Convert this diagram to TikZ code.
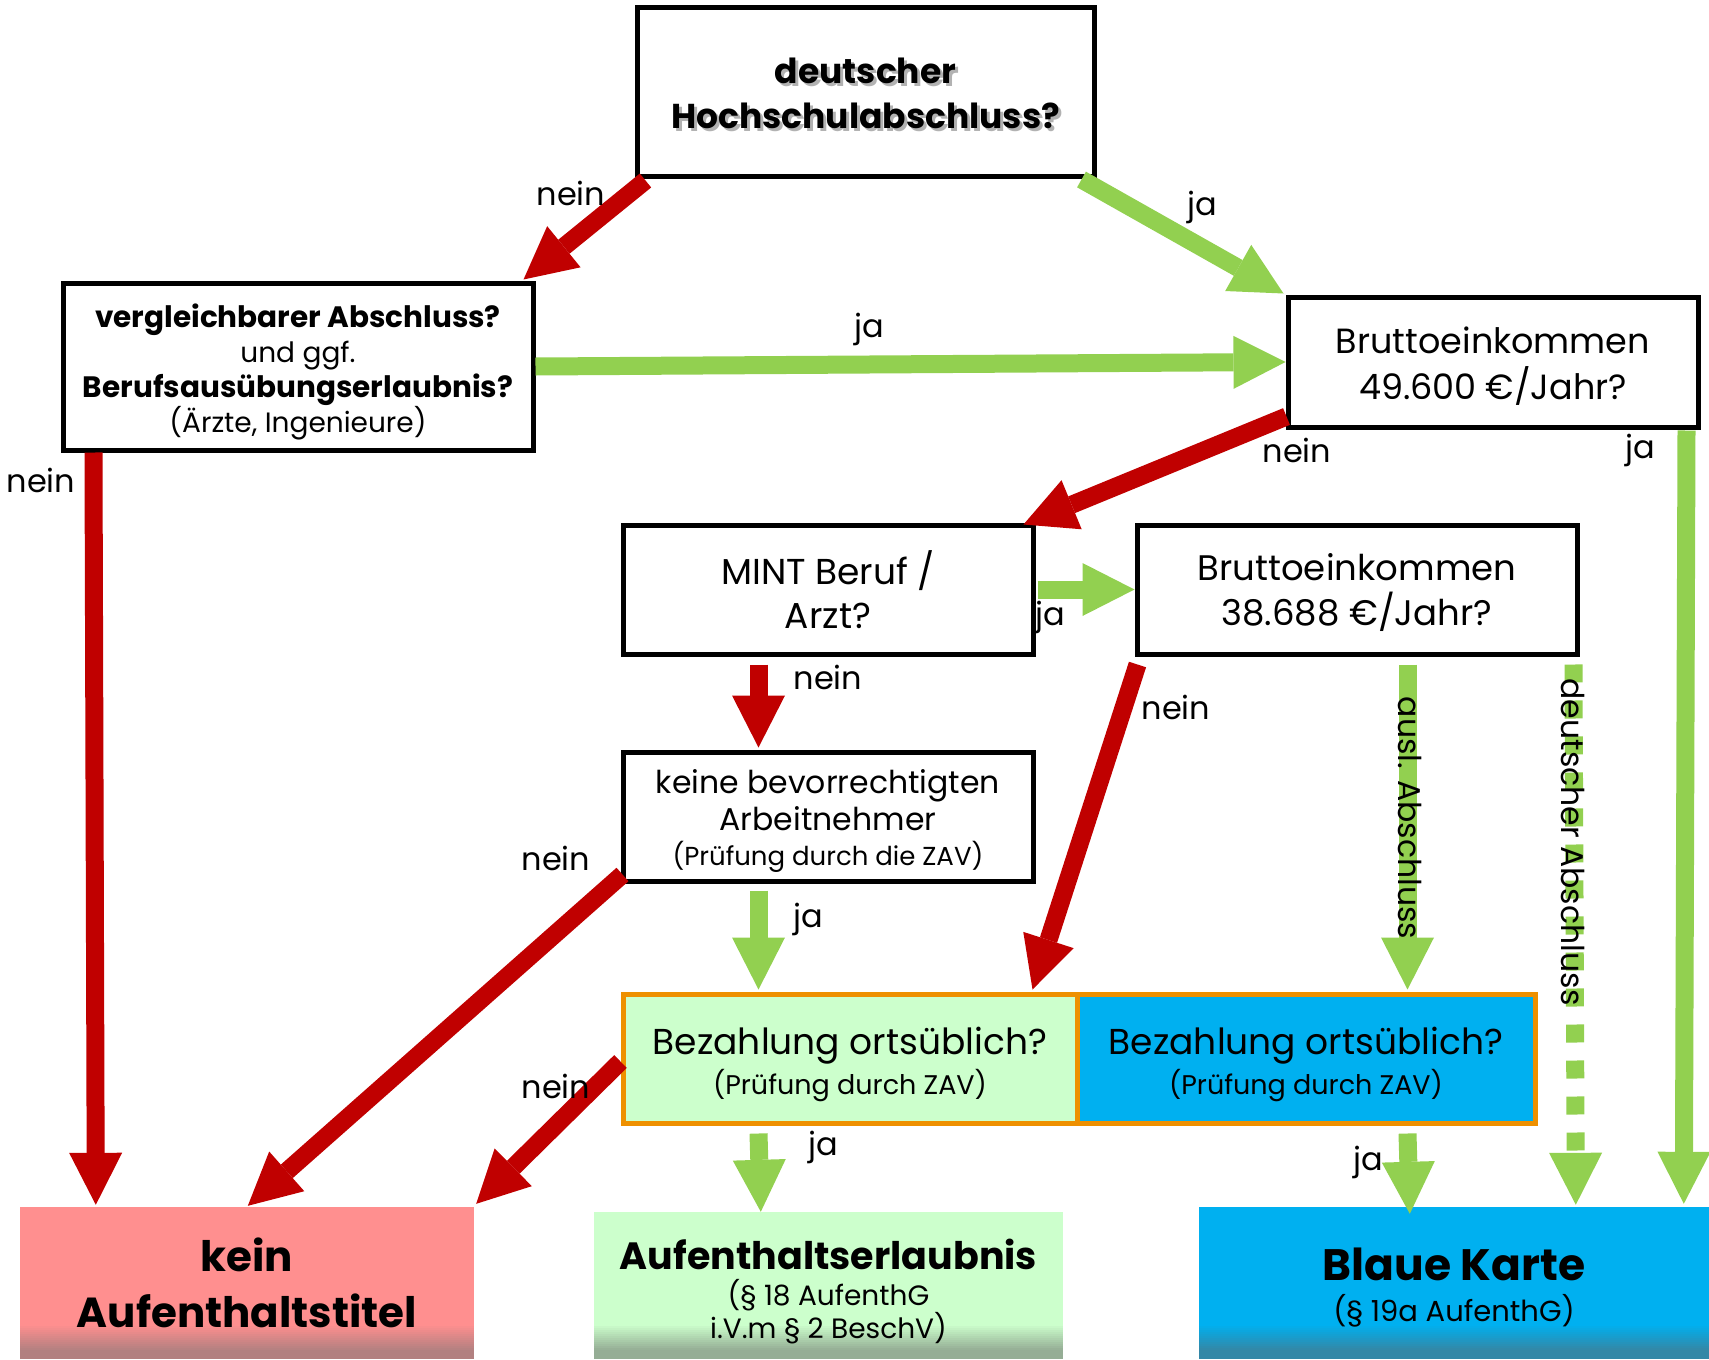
\documentclass[tikz,border=0pt]{standalone}
\usepackage{fontspec}
\setmainfont{Poppins}
\usetikzlibrary{arrows.meta,calc}
\definecolor{cred}{HTML}{C00000}
\definecolor{cgreen}{HTML}{92D050}
\definecolor{cblue}{HTML}{00B0F0}
\definecolor{corange}{HTML}{EE9000}
\definecolor{lgreen}{HTML}{CCFFCC}
\definecolor{lred}{HTML}{FF8F8F}
\colorlet{dred}{lred!60!black!75}
\colorlet{dgreen}{lgreen!60!black!80}
\colorlet{dblue}{cblue!60!black!80}
\tikzset{
  qbox/.style={draw=black, line width=5pt, fill=white, inner sep=0pt},
  paybox/.style={draw=corange, line width=5pt, inner sep=0pt},
  endbox/.style={align=center, inner sep=0pt, fill=#1},
  txt/.style={align=center, inner sep=0pt},
  % darkening strip along the lower edge of an outcome box, built from thin rows
  band/.style 2 args={path picture={
      \colorlet{bandtop}{#1}\colorlet{bandbot}{#2}
      \foreach \i in {0,...,15}{
        \pgfmathtruncatemacro\p{min(100,(\i+1)*8)}
        \pgfmathsetmacro\ya{32-2*\i}
        \pgfmathsetmacro\yb{29-2*\i}
        \fill[bandbot!\p!bandtop] ([yshift=\ya pt]path picture bounding box.south west)
          rectangle ([yshift=\yb pt]path picture bounding box.south east);}
      \fill[bandbot] ([yshift=2pt]path picture bounding box.south west)
          rectangle (path picture bounding box.south east);}},
  rarrow/.style={draw=cred, line width=18pt,
      -{Triangle[width=53pt,length=52pt,line width=0pt]}},
  garrow/.style={draw=cgreen, line width=18pt,
      -{Triangle[width=53pt,length=52pt,line width=0pt]}},
  gdash/.style={garrow, dash pattern=on 18pt off 18pt},
  lbl/.style={inner sep=0pt, font=\fontsize{32}{36}\selectfont},
  title/.style={txt, font=\fontsize{34.5}{45}\selectfont\bfseries},
}
\begin{document}
\begin{tikzpicture}[x=1pt,y=-1pt]
\useasboundingbox (0,0) rectangle (1709,1360);

% question boxes
\node[qbox, minimum width=457, minimum height=169] (top) at (865.5,91.5) {};
% soft drop shadow behind the title
\node[title, text=black, opacity=0.3] (topshadow) at (868.5,96) {deutscher\\Hochschulabschluss?};
\node[title] (toptext) at (865.5,93) {deutscher\\Hochschulabschluss?};

\node[qbox, minimum width=470, minimum height=167] (vgl) at (298,366.5) {};
\node[txt, font=\fontsize{28}{35}\selectfont] (vgltext) at (298,372)
  {{\fontsize{29.5}{35}\selectfont\bfseries vergleichbarer Abschluss?}\\und ggf.\\
   {\fontsize{29.5}{35}\selectfont\bfseries Berufsausübungserlaubnis?}\\(Ärzte, Ingenieure)};

\node[qbox, minimum width=410, minimum height=130] (b49) at (1493,362) {};
\node[txt, font=\fontsize{35}{46}\selectfont] (b49text) at (1493,366.5)
  {Bruttoeinkommen\\49.600 €/Jahr?};

\node[qbox, minimum width=410, minimum height=129] (mint) at (828,589.5) {};
\node[txt, font=\fontsize{36}{44}\selectfont] (minttext) at (828,589.5)
  {MINT Beruf /\\Arzt?};

\node[qbox, minimum width=440, minimum height=129] (b38) at (1357,589.5) {};
\node[txt, font=\fontsize{35.5}{45}\selectfont] (b38text) at (1357,593)
  {Bruttoeinkommen\\38.688 €/Jahr?};

\node[qbox, minimum width=410, minimum height=129] (keine) at (828,816.5) {};
\node[txt, font=\fontsize{31.5}{37}\selectfont] (keinetext) at (828,821)
  {keine bevorrechtigten\\Arbeitnehmer\\[-2pt]{\fontsize{26}{30}\selectfont(Prüfung durch die ZAV)}};

% salary check boxes
\node[paybox, fill=lgreen, minimum width=454, minimum height=129] (bezg) at (850,1058.5) {};
\node[paybox, fill=cblue, minimum width=458, minimum height=129] (bezb) at (1306,1058.5) {};
\node[txt, font=\fontsize{36}{42}\selectfont] (bezgtext) at (850,1064)
  {Bezahlung ortsüblich?\\[-2pt]{\fontsize{27}{30}\selectfont(Prüfung durch ZAV)}};
\node[txt, font=\fontsize{36}{42}\selectfont] (bezbtext) at (1306,1064)
  {Bezahlung ortsüblich?\\[-2pt]{\fontsize{27}{30}\selectfont(Prüfung durch ZAV)}};

% outcomes
\node[endbox=lred, band={lred}{dred}, minimum width=454, minimum height=151,
      font=\fontsize{42}{56}\selectfont\bfseries] (kein) at (247,1282.5)
  {kein\\Aufenthaltstitel};
\node[endbox=lgreen, band={lgreen}{dgreen}, minimum width=469, minimum height=146]
  (aufe) at (828.5,1285) {};
\node[txt, font=\fontsize{28}{33}\selectfont] (aufetext) at (828.5,1292)
  {{\fontsize{38}{44}\selectfont\bfseries Aufenthaltserlaubnis}\\[3pt](§ 18 AufenthG\\i.V.m § 2 BeschV)};
\node[endbox=cblue, band={cblue}{dblue}, minimum width=510, minimum height=151]
  (blau) at (1454,1282.5) {};
\node[txt, font=\fontsize{29}{33}\selectfont] (blautext) at (1454,1288)
  {{\fontsize{44}{48}\selectfont\bfseries Blaue Karte}\\[8pt](§ 19a AufenthG)};

% connectors
\draw[rarrow] ($(top.south west)+(11,2)$) -- ($(vgl.north east)+(-12,-1)$);
\draw[garrow] ($(top.south east)+(-15,1)$) -- ($(b49.north west)+(-2,-1)$);
\draw[garrow] (vgl.east) -- (b49.west);
\draw[rarrow] ($(vgl.south west)+(33,0)$) -- ($(kein.north west)+(76,-2)$);
\draw[rarrow] ($(b49.south west)+(1,-13)$) -- ($(mint.north east)+(-12,2)$);
\draw[garrow] ($(b49.south east)+(-14,1)$) -- ($(blau.north west)+(485,-3)$);
\draw[garrow, shorten <=2pt] (mint.east) -- (b38.west);
\draw[rarrow] ($(mint.south west)+(138,8)$) -- ($(keine.north west)+(138,-2)$);
\draw[rarrow] ($(b38.south west)+(3,8)$) -- ($(bezg.north west)+(412,-2)$);
\draw[garrow] ($(b38.south west)+(273,8)$) -- ($(bezb.north west)+(333,-2)$);
\draw[gdash] ($(b38.south west)+(439,8)$) -- ($(blau.north west)+(377,-2)$);
\draw[garrow] ($(keine.south west)+(138,7)$) -- ($(bezg.north west)+(138,-2)$);
\draw[rarrow] ($(keine.south west)+(2,-9)$) -- ($(kein.north west)+(228,-1)$);
\draw[rarrow] ($(bezg.west)+(0,3)$) -- ($(kein.north east)+(2,-3)$);
\draw[garrow] ($(bezg.south west)+(138,8)$) -- ($(aufe.north west)+(167,0)$);
\draw[garrow] ($(bezb.south west)+(333,8)$) -- ($(blau.north west)+(211,7)$);

% connector labels
\node[lbl] (l1) at (571,193) {nein};
\node[lbl] (l2) at (1202,207) {ja};
\node[lbl] (l3) at (869,329) {ja};
\node[lbl] (l4) at (41,480) {nein};
\node[lbl] (l5) at (1297,450) {nein};
\node[lbl] (l6) at (1640,450) {ja};
\node[lbl] (l7) at (1050,617) {ja};
\node[lbl] (l8) at (828,677) {nein};
\node[lbl] (l9) at (1176,707) {nein};
\node[lbl] (l10) at (808,919) {ja};
\node[lbl] (l11) at (556,858) {nein};
\node[lbl] (l12) at (556,1086) {nein};
\node[lbl] (l13) at (823,1147) {ja};
\node[lbl] (l14) at (1368,1162) {ja};
\node[lbl, font=\fontsize{31.5}{36}\selectfont, rotate=-90] (l15) at (1410,818) {ausl. Abschluss};
\node[lbl, font=\fontsize{31.5}{36}\selectfont, rotate=-90] (l16) at (1573,842) {deutscher Abschluss};
\end{tikzpicture}
\end{document}
